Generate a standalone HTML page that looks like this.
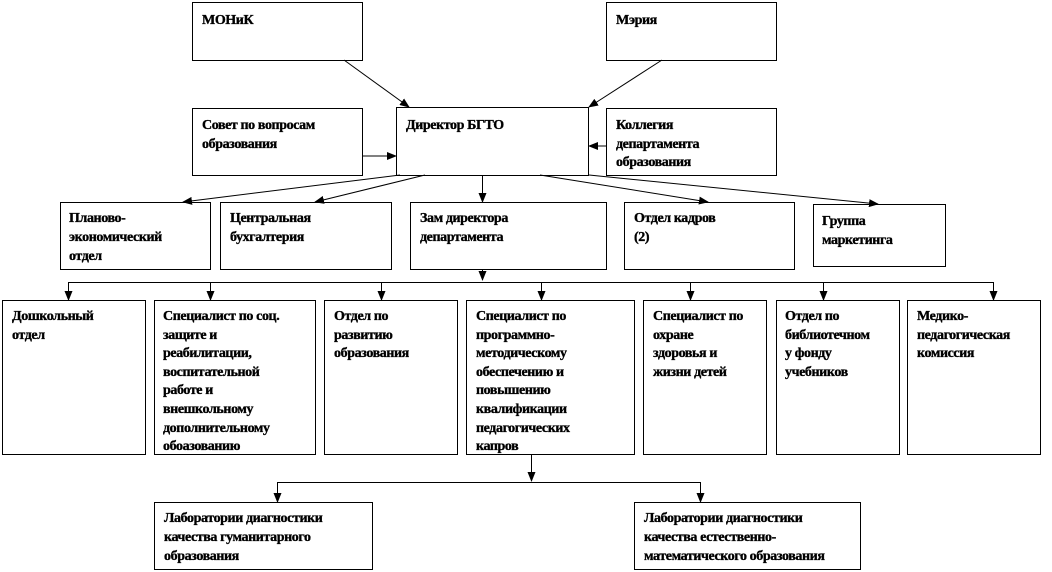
<!DOCTYPE html>
<html><head><meta charset="utf-8"><style>
html,body{margin:0;padding:0;background:#fff;}
svg{display:block;}
text{font-family:"Liberation Serif","DejaVu Serif",serif;font-weight:bold;font-size:14px;letter-spacing:-0.4px;fill:#000;stroke:#000;stroke-width:0.35px;}
</style></head><body>
<svg width="1052" height="572" viewBox="0 0 1052 572" xmlns="http://www.w3.org/2000/svg">
<defs><marker id="a" markerWidth="10" markerHeight="8" refX="9" refY="4" orient="auto" markerUnits="userSpaceOnUse"><path d="M0,0 L10,4 L0,8 z" fill="#000"/></marker></defs>
<g fill="none" stroke="#000" stroke-width="1">
<rect x="192.5" y="2.5" width="170" height="58"/>
<rect x="606.5" y="2.5" width="170" height="58"/>
<rect x="192.5" y="108.5" width="170" height="67"/>
<rect x="396.5" y="107.5" width="192" height="68"/>
<rect x="606.5" y="108.5" width="170" height="67"/>
<rect x="60.5" y="202.5" width="150" height="67"/>
<rect x="220.5" y="202.5" width="171" height="67"/>
<rect x="410.5" y="202.5" width="196" height="67"/>
<rect x="624.5" y="202.5" width="170" height="67"/>
<rect x="813.5" y="204.5" width="132" height="62"/>
<rect x="2.5" y="300.5" width="143" height="154"/>
<rect x="154.5" y="300.5" width="161" height="154"/>
<rect x="324.5" y="300.5" width="133" height="154"/>
<rect x="466.5" y="300.5" width="168" height="154"/>
<rect x="643.5" y="300.5" width="123" height="154"/>
<rect x="776.5" y="300.5" width="123" height="154"/>
<rect x="907.5" y="300.5" width="133" height="154"/>
<rect x="154.5" y="502.5" width="218" height="67"/>
<rect x="634.5" y="502.5" width="226" height="67"/>
<line x1="344" y1="60" x2="409" y2="107" marker-end="url(#a)"/>
<line x1="662" y1="60" x2="589" y2="107" marker-end="url(#a)"/>
<line x1="362" y1="156" x2="396" y2="156" marker-end="url(#a)"/>
<line x1="606" y1="146" x2="589" y2="146" marker-end="url(#a)"/>
<line x1="400" y1="175" x2="183" y2="202" marker-end="url(#a)"/>
<line x1="425" y1="175" x2="315" y2="202" marker-end="url(#a)"/>
<line x1="482.5" y1="175" x2="482.5" y2="202" marker-end="url(#a)"/>
<line x1="540" y1="175" x2="708" y2="202" marker-end="url(#a)"/>
<line x1="589" y1="175" x2="878" y2="204" marker-end="url(#a)"/>
<line x1="482.5" y1="270" x2="482.5" y2="280" marker-end="url(#a)"/>
<polyline points="68.5,300 68.5,282.5 993.5,282.5 993.5,300"/>
<line x1="68.5" y1="282" x2="68.5" y2="300" marker-end="url(#a)"/>
<line x1="210.5" y1="282" x2="210.5" y2="300" marker-end="url(#a)"/>
<line x1="381.5" y1="282" x2="381.5" y2="300" marker-end="url(#a)"/>
<line x1="541.5" y1="282" x2="541.5" y2="300" marker-end="url(#a)"/>
<line x1="690.5" y1="282" x2="690.5" y2="300" marker-end="url(#a)"/>
<line x1="823.5" y1="282" x2="823.5" y2="300" marker-end="url(#a)"/>
<line x1="993.5" y1="282" x2="993.5" y2="300" marker-end="url(#a)"/>
<line x1="531.5" y1="455" x2="531.5" y2="481" marker-end="url(#a)"/>
<polyline points="277.5,502 277.5,482.5 700.5,482.5 700.5,502"/>
<line x1="277.5" y1="482" x2="277.5" y2="502" marker-end="url(#a)"/>
<line x1="700.5" y1="482" x2="700.5" y2="502" marker-end="url(#a)"/>
</g>
<text x="202" y="24">МОНиК</text>
<text x="616" y="24">Мэрия</text>
<text x="202" y="129">Совет по вопросам</text>
<text x="202" y="148">образования</text>
<text x="406" y="129">Директор БГТО</text>
<text x="616" y="129">Коллегия</text>
<text x="616" y="148">департамента</text>
<text x="616" y="166">образования</text>
<text x="69" y="222">Планово-</text>
<text x="69" y="241">экономический</text>
<text x="69" y="260">отдел</text>
<text x="230" y="222">Центральная</text>
<text x="230" y="241">бухгалтерия</text>
<text x="420" y="222">Зам директора</text>
<text x="420" y="241">департамента</text>
<text x="634" y="222">Отдел кадров</text>
<text x="634" y="241">(2)</text>
<text x="822" y="225">Группа</text>
<text x="822" y="244">маркетинга</text>
<text x="12" y="320">Дошкольный</text>
<text x="12" y="339">отдел</text>
<g>
<text x="163" y="320">Специалист по соц.</text>
<text x="163" y="339">защите и</text>
<text x="163" y="357">реабилитации,</text>
<text x="163" y="376">воспитательной</text>
<text x="163" y="394">работе и</text>
<text x="163" y="413">внешкольному</text>
<text x="163" y="432">дополнительному</text>
<text x="163" y="450">обоазованию</text>
</g>
<text x="334" y="320">Отдел по</text>
<text x="334" y="339">развитию</text>
<text x="334" y="357">образования</text>
<g>
<text x="476" y="320">Специалист по</text>
<text x="476" y="339">программно-</text>
<text x="476" y="357">методическому</text>
<text x="476" y="376">обеспечению и</text>
<text x="476" y="394">повышению</text>
<text x="476" y="413">квалификации</text>
<text x="476" y="432">педагогических</text>
<text x="476" y="450">капров</text>
</g>
<text x="653" y="320">Специалист по</text>
<text x="653" y="339">охране</text>
<text x="653" y="357">здоровья и</text>
<text x="653" y="376">жизни детей</text>
<text x="785" y="320">Отдел по</text>
<text x="785" y="339">библиотечном</text>
<text x="785" y="357">у фонду</text>
<text x="785" y="376">учебников</text>
<text x="917" y="320">Медико-</text>
<text x="917" y="339">педагогическая</text>
<text x="917" y="357">комиссия</text>
<text x="164" y="522">Лаборатории диагностики</text>
<text x="164" y="541">качества гуманитарного</text>
<text x="164" y="560">образования</text>
<text x="644" y="522">Лаборатории диагностики</text>
<text x="644" y="541">качества естественно-</text>
<text x="644" y="560">математического  образования</text>
</svg>
</body></html>
